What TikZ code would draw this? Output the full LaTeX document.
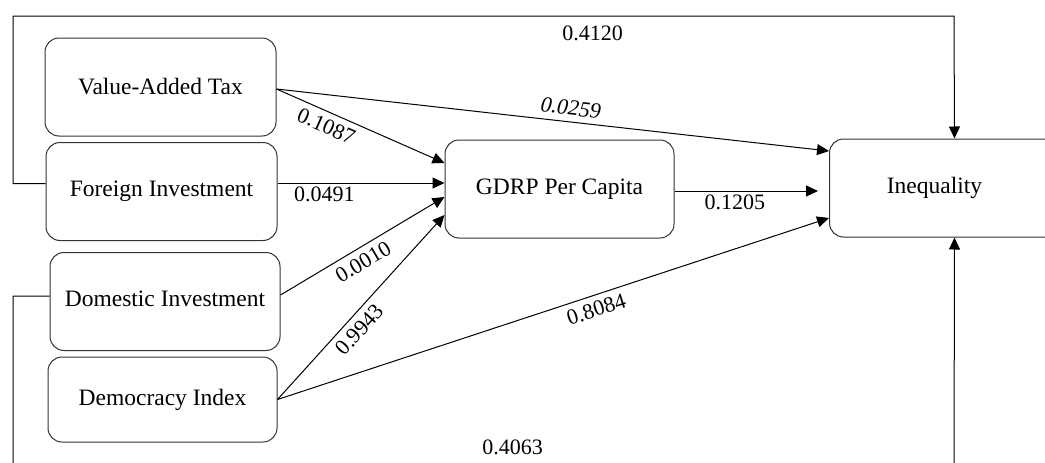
\documentclass[tikz,border=0pt]{standalone}
\usepackage{fontspec}
\setmainfont{Liberation Serif}
\usepackage{tikz}
\usetikzlibrary{arrows.meta,positioning}

\begin{document}
\begin{tikzpicture}[x=1pt,y=-1pt,>={Triangle[length=12pt,width=11pt]},line width=1pt]
	\tikzset{every node/.style={font=\fontsize{22}{26}\selectfont}}
	\tikzset{box/.style={draw=black!80,rounded corners=14pt,minimum height=98pt,font=\fontsize{23.5}{28}\selectfont}}
	\tikzset{lbl/.style={inner sep=3pt}}
	\tikzset{slbl/.style={inner sep=6pt,sloped}}
	\useasboundingbox (0,0) rectangle (1045,463);
	% the boxes
	\node[box,minimum width=231pt] (vat)  at (160.5,87)    {\raisebox{2pt}{Value-Added Tax}};
	\node[box,minimum width=231pt] (fi)   at (161.5,191.5) {Foreign Investment};
	\node[box,minimum width=230pt] (di)   at (165,301.5)   {\raisebox{6pt}{Domestic Investment}};
	\node[box,minimum width=229pt,minimum height=85pt] (dem) at (162.5,399.5) {\raisebox{-5pt}{Democracy Index}};
	\node[box,minimum width=229pt] (gdrp) at (559.5,189)   {GDRP Per Capita};
	\node[box,minimum width=240pt,anchor=west,
	      label={[font=\fontsize{23.5}{28}\selectfont,xshift=-15pt]center:Inequality}] (ineq) at (829,188) {};
	% paths into GDRP
	\draw[->] ([yshift=-2pt]vat.east) -- node[slbl,pos=0.33,below] {0.1087} ([yshift=26pt]gdrp.west);
	\draw[->] ([yshift=8.5pt]fi.east) -- node[lbl,pos=0.28,below] {0.0491} ([yshift=6pt]gdrp.west);
	\draw[->] ([yshift=6.5pt]di.east) -- node[slbl,pos=0.46,below] {0.0010} ([yshift=-8pt]gdrp.west);
	\draw[->] (dem.east) -- node[slbl,pos=0.43,below] {0.9943} ([yshift=-26pt]gdrp.west);
	% paths into Inequality
	\draw[->] ([yshift=-2pt]vat.east) -- node[slbl,pos=0.53,above] {\textit{0.0259}} ([yshift=37pt]ineq.west);
	\draw[->] (dem.east) -- node[slbl,pos=0.57,below] {0.8084} ([yshift=-30pt]ineq.west);
	\draw[->,shorten >=11pt] ([yshift=-2pt]gdrp.east) -- node[lbl,pos=0.39,below] {0.1205} ([yshift=-3pt]ineq.west);
	\draw[->] ([yshift=8pt]fi.west) -| (13,16) -- node[lbl,pos=0.616,below=6pt] {0.4120} (954,16) -- ([xshift=5pt]ineq.north);
	\draw[->] ([yshift=5.5pt]di.west) -| (13,475) -- node[lbl,pos=0.531,above=17pt] {0.4063} (954,475) -- ([xshift=5pt]ineq.south);
\end{tikzpicture}
\end{document}
